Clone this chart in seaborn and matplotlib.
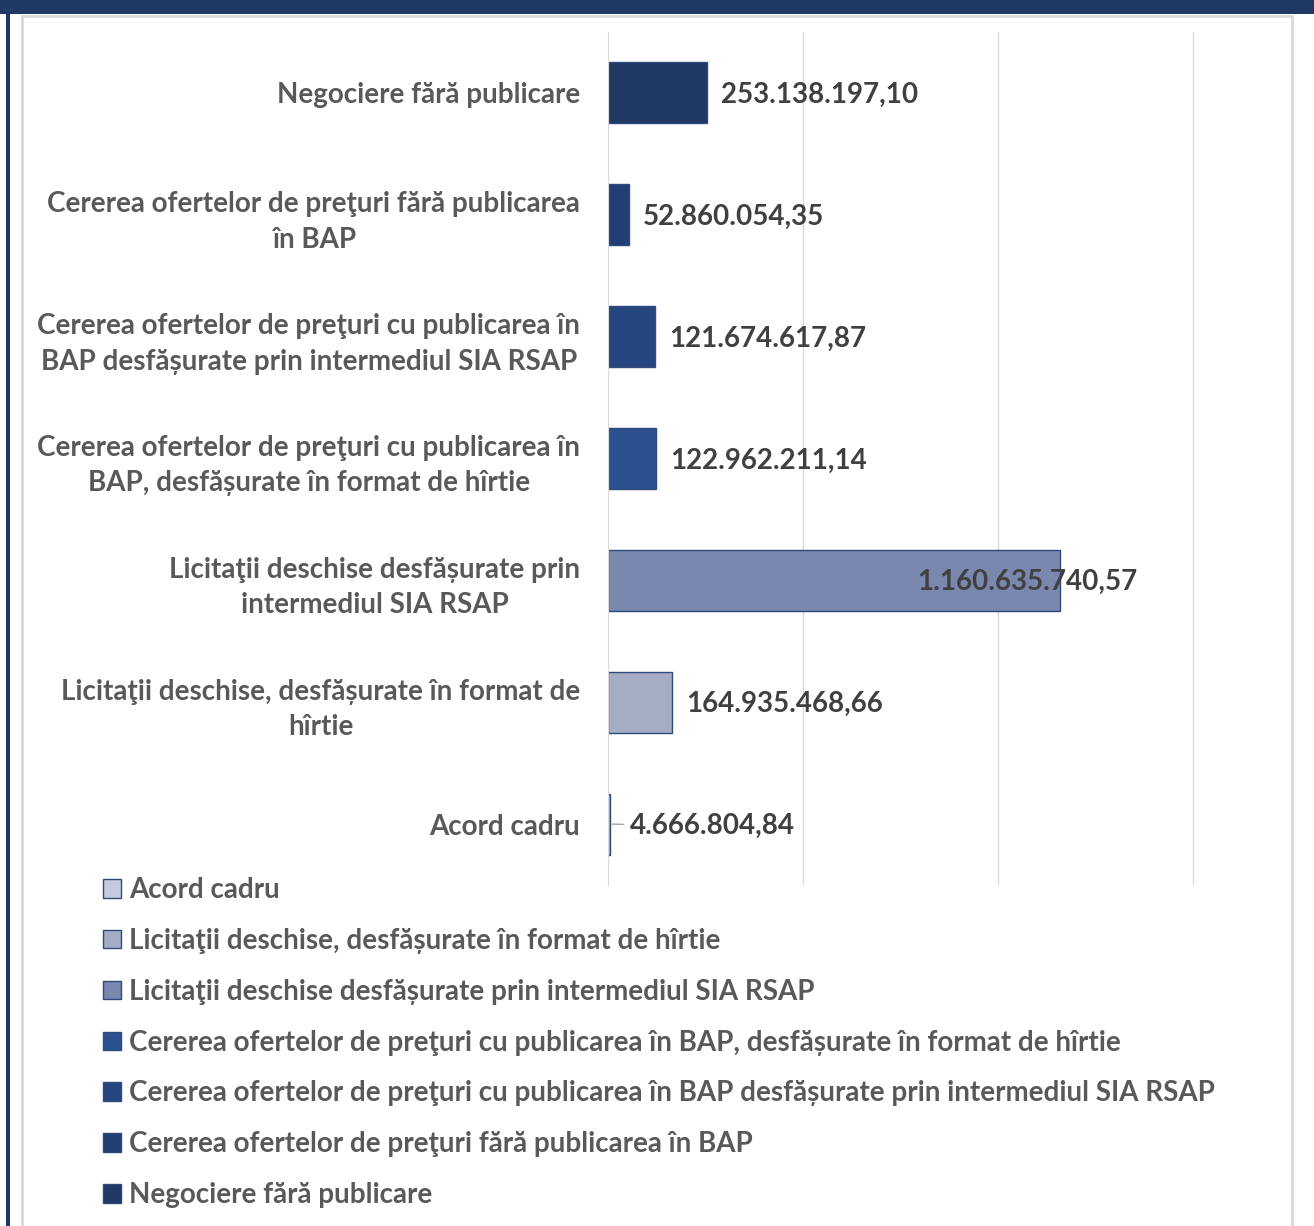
import matplotlib
matplotlib.use("Agg")
import matplotlib.pyplot as plt
from matplotlib.patches import Patch, Rectangle
import seaborn as sns
import pandas as pd

# date
proceduri = [
    "Negociere fără publicare",
    "Cererea ofertelor de preţuri fără publicarea în BAP",
    "Cererea ofertelor de preţuri cu publicarea în BAP desfășurate prin intermediul SIA RSAP",
    "Cererea ofertelor de preţuri cu publicarea în BAP, desfășurate în format de hîrtie",
    "Licitaţii deschise desfășurate prin intermediul SIA RSAP",
    "Licitaţii deschise, desfășurate în format de hîrtie",
    "Acord cadru",
]
etichete_axa = [
    "Negociere fără publicare",
    "Cererea ofertelor de preţuri fără publicarea\nîn BAP",
    "Cererea ofertelor de preţuri cu publicarea în\nBAP desfășurate prin intermediul SIA RSAP",
    "Cererea ofertelor de preţuri cu publicarea în\nBAP, desfășurate în format de hîrtie",
    "Licitaţii deschise desfășurate prin\nintermediul SIA RSAP",
    "Licitaţii deschise, desfășurate în format de\nhîrtie",
    "Acord cadru",
]
valori = [253138197.10, 52860054.35, 121674617.87, 122962211.14,
          1160635740.57, 164935468.66, 4666804.84]
valori_text = ["253.138.197,10", "52.860.054,35", "121.674.617,87", "122.962.211,14",
               "1.160.635.740,57", "164.935.468,66", "4.666.804,84"]
culori = ["#1F3864", "#213F74", "#26467F", "#2C5190", "#7A88AF", "#A5ADC5", "#C5CBDC"]

df = pd.DataFrame({"procedura": proceduri, "valoare": valori})
paleta = dict(zip(proceduri, culori))

sns.set_style("white")
plt.rcParams["font.family"] = ["Lato", "DejaVu Sans"]
plt.rcParams["font.weight"] = "bold"
FS = 20

W, H = 1314, 1226
fig = plt.figure(figsize=(W / 100, H / 100), dpi=100)
fig.patch.set_facecolor("white")

# rama
fig.add_artist(Rectangle((0, 1 - 14 / H), 1, 14 / H, transform=fig.transFigure,
                         facecolor="#1F3864", edgecolor="none"))
fig.add_artist(Rectangle((6 / W, 0), 4 / W, 1, transform=fig.transFigure,
                         facecolor="#1F3864", edgecolor="none"))
fig.add_artist(Rectangle((22 / W, -0.01), (1292 - 22) / W, 1 - 14 / H + 0.01 - 2 / H,
                         transform=fig.transFigure, facecolor="none",
                         edgecolor="#D9D9D9", linewidth=2))

ax = fig.add_axes([608 / W, 1 - 885 / H, (1290 - 608) / W, (885 - 32) / H])
sns.barplot(data=df, x="valoare", y="procedura", hue="procedura", palette=paleta,
            dodge=False, legend=False, width=0.5, edgecolor="#2E4A7D",
            linewidth=1, saturation=1, ax=ax)

ax.set_xlim(0, 1.75e9)
ax.set_ylim(6.5, -0.5)
ax.set_xticks([5e8, 1e9, 1.5e9])
ax.set_xticklabels([])
ax.tick_params(axis="x", length=0)
ax.grid(axis="x", color="#D9D9D9", linewidth=1)
ax.set_axisbelow(True)
ax.set_xlabel("")
ax.set_ylabel("")

ax.set_yticks(range(len(proceduri)))
ax.set_yticklabels(etichete_axa, fontsize=FS, color="#595959", fontweight="bold")
for lab in ax.get_yticklabels():
    lab.set_multialignment("center")
    lab.set_linespacing(1.45)
ax.tick_params(axis="y", length=0, pad=20)
ax.set_yticks([i + 0.5 for i in range(-1, len(proceduri))], minor=True)
ax.tick_params(axis="y", which="minor", length=7, color="#D9D9D9", width=1)

for s in ["top", "right", "bottom"]:
    ax.spines[s].set_visible(False)
ax.spines["left"].set_color("#D9D9D9")

# etichete valori
imax = valori.index(max(valori))
for i, (v, t) in enumerate(zip(valori, valori_text)):
    if i == imax:
        ax.annotate(t, xy=(v, i), xytext=(-143, -2), textcoords="offset pixels",
                    ha="left", va="center", fontsize=FS, color="#404040", fontweight="bold")
    elif v < 2e7:
        ax.annotate(t, xy=(v, i), xytext=(20, -2), textcoords="offset pixels",
                    ha="left", va="center", fontsize=FS, color="#404040", fontweight="bold",
                    arrowprops=dict(arrowstyle="-", color="#A6A6A6", lw=1,
                                    shrinkA=2, shrinkB=1))
    else:
        ax.annotate(t, xy=(v, i), xytext=(14, -2), textcoords="offset pixels",
                    ha="left", va="center", fontsize=FS, color="#404040", fontweight="bold")

# legenda
handles = [Patch(facecolor=paleta[p], edgecolor="#2E4A7D", linewidth=1, label=p)
           for p in proceduri[::-1]]
fig.legend(handles=handles, loc="upper left", bbox_to_anchor=(103 / W, 1 - 877 / H),
           frameon=False, fontsize=FS, labelcolor="#595959", handlelength=0.65,
           handleheight=0.65, handletextpad=0.3, labelspacing=0.895, borderaxespad=0,
           borderpad=0)

fig.savefig("out.png", dpi=100)
